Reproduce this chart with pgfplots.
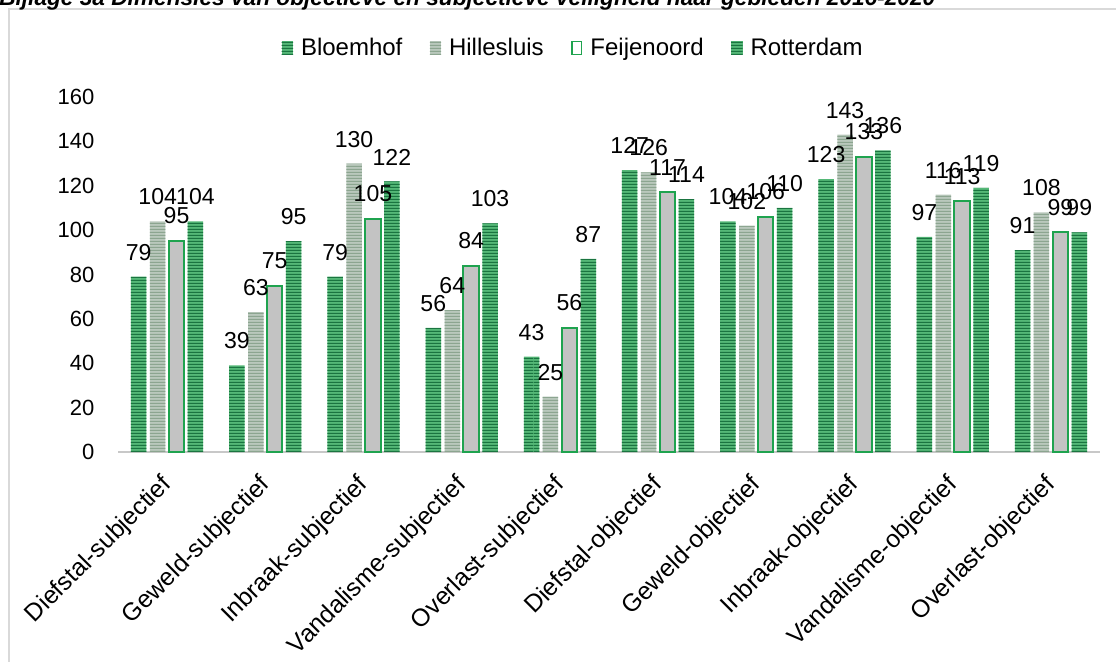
\documentclass[border=0pt]{standalone}
\usepackage{pgfplots}
\pgfplotsset{compat=1.18}
\usepackage{fontspec}
\setmainfont{Liberation Sans}
\usetikzlibrary{patterns}
\definecolor{dg}{HTML}{1A7440}
\definecolor{lg}{HTML}{55B877}
\definecolor{hg}{HTML}{8CA590}
\definecolor{hl}{HTML}{B9C8BC}
\definecolor{fgray}{HTML}{C3C3C3}
\definecolor{fgreen}{HTML}{1FA34F}
\definecolor{axgray}{HTML}{C8C8C8}
\definecolor{framegray}{HTML}{D9D9D9}
\pgfdeclarepatternformonly{hstripes}{\pgfqpoint{0pt}{0pt}}{\pgfqpoint{200pt}{2.25pt}}{\pgfqpoint{200pt}{2.25pt}}{%
  \pgfpathrectangle{\pgfqpoint{0pt}{0pt}}{\pgfqpoint{200pt}{1.15pt}}\pgfusepath{fill}}
\newcommand{\tickfont}{\fontsize{16.5}{19.8}\selectfont}
\newcommand{\labfont}{\fontsize{17.3}{20.8}\selectfont}
\newcommand{\legfont}{\fontsize{18}{21.6}\selectfont}
\newcommand{\catfont}{\fontsize{18.5}{22.2}\selectfont}
\begin{document}
\begin{tikzpicture}[x=0.75pt,y=0.75pt]
\path[use as bounding box] (0,0) rectangle (1116,661);
\clip (0,0) rectangle (1116,661);
\draw[framegray, line width=1.1pt] (9,-10) -- (9,652) -- (1130,652);
\node[anchor=base west, inner sep=0pt, font=\fontsize{17}{20}\selectfont\bfseries\itshape] at (-1,655) {Bijlage 3a Dimensies van objectieve en subjectieve veiligheid naar gebieden 2016-2020};
\begin{axis}[
  at={(88.5pt,156.75pt)}, anchor=south west,
  width=736.5pt, height=266.25pt, scale only axis,
  ymin=0, ymax=160, xmin=-0.5, xmax=9.5,
  ytick={0,20,...,160},
  xtick={0,...,9},
  xticklabels={Diefstal-subjectief,Geweld-subjectief,Inbraak-subjectief,Vandalisme-subjectief,Overlast-subjectief,Diefstal-objectief,Geweld-objectief,Inbraak-objectief,Vandalisme-objectief,Overlast-objectief},
  axis x line=bottom, axis y line=left,
  x axis line style={draw=axgray, line width=2.2pt, -},
  y axis line style={draw=none},
  major tick length=0pt, tick style={draw=none},
  /pgf/number format/assume math mode=true,
  yticklabel style={font=\tickfont, anchor=east, inner sep=0pt},
  yticklabel shift=17.5pt,
  xticklabel style={font=\catfont, xshift=-5.5pt, yshift=-15.5pt, rotate=45, anchor=north east, inner sep=0pt},
  ybar, bar width=0.158,
  nodes near coords,
  every node near coord/.append style={font=\labfont, text=black, inner sep=0pt, anchor=south, yshift=12pt},
  legend columns=4,
  legend style={at={(0.4638,1.138)}, anchor=center, draw=none, fill=none, font=\legfont, inner sep=0pt,
    /tikz/every even column/.append style={column sep=18.5pt},
    /tikz/every odd column/.append style={column sep=4pt}},
]
\addplot[ybar, bar shift=-0.289, draw=none, preaction={fill=lg}, pattern=hstripes, pattern color=dg,
  legend image code/.code={\path[draw=none, preaction={fill=lg}, pattern=hstripes, pattern color=dg] (0pt,-5.6pt) rectangle (8.5pt,5.6pt);}]
  coordinates {(0,79) (1,39) (2,79) (3,56) (4,43) (5,127) (6,104) (7,123) (8,97) (9,91)};
\addlegendentry{Bloemhof}
\addplot[ybar, bar shift=-0.096, draw=none, preaction={fill=hl}, pattern=hstripes, pattern color=hg,
  legend image code/.code={\path[draw=none, preaction={fill=hl}, pattern=hstripes, pattern color=hg] (0pt,-5.6pt) rectangle (8.5pt,5.6pt);}]
  coordinates {(0,104) (1,63) (2,130) (3,64) (4,25) (5,126) (6,102) (7,143) (8,116) (9,108)};
\addlegendentry{Hillesluis}
\addplot[ybar, bar shift=0.096, draw=fgreen, line width=1.5pt, fill=fgray,
  legend image code/.code={\path[draw=fgreen, line width=1.2pt, fill=white] (0.6pt,-5pt) rectangle (7.9pt,5pt);}]
  coordinates {(0,95) (1,75) (2,105) (3,84) (4,56) (5,117) (6,106) (7,133) (8,113) (9,99)};
\addlegendentry{Feijenoord}
\addplot[ybar, bar shift=0.289, draw=none, preaction={fill=lg}, pattern=hstripes, pattern color=dg,
  legend image code/.code={\path[draw=none, preaction={fill=lg}, pattern=hstripes, pattern color=dg] (0pt,-5.6pt) rectangle (8.5pt,5.6pt);}]
  coordinates {(0,104) (1,95) (2,122) (3,103) (4,87) (5,114) (6,110) (7,136) (8,119) (9,99)};
\addlegendentry{Rotterdam}
\end{axis}
\end{tikzpicture}
\end{document}
